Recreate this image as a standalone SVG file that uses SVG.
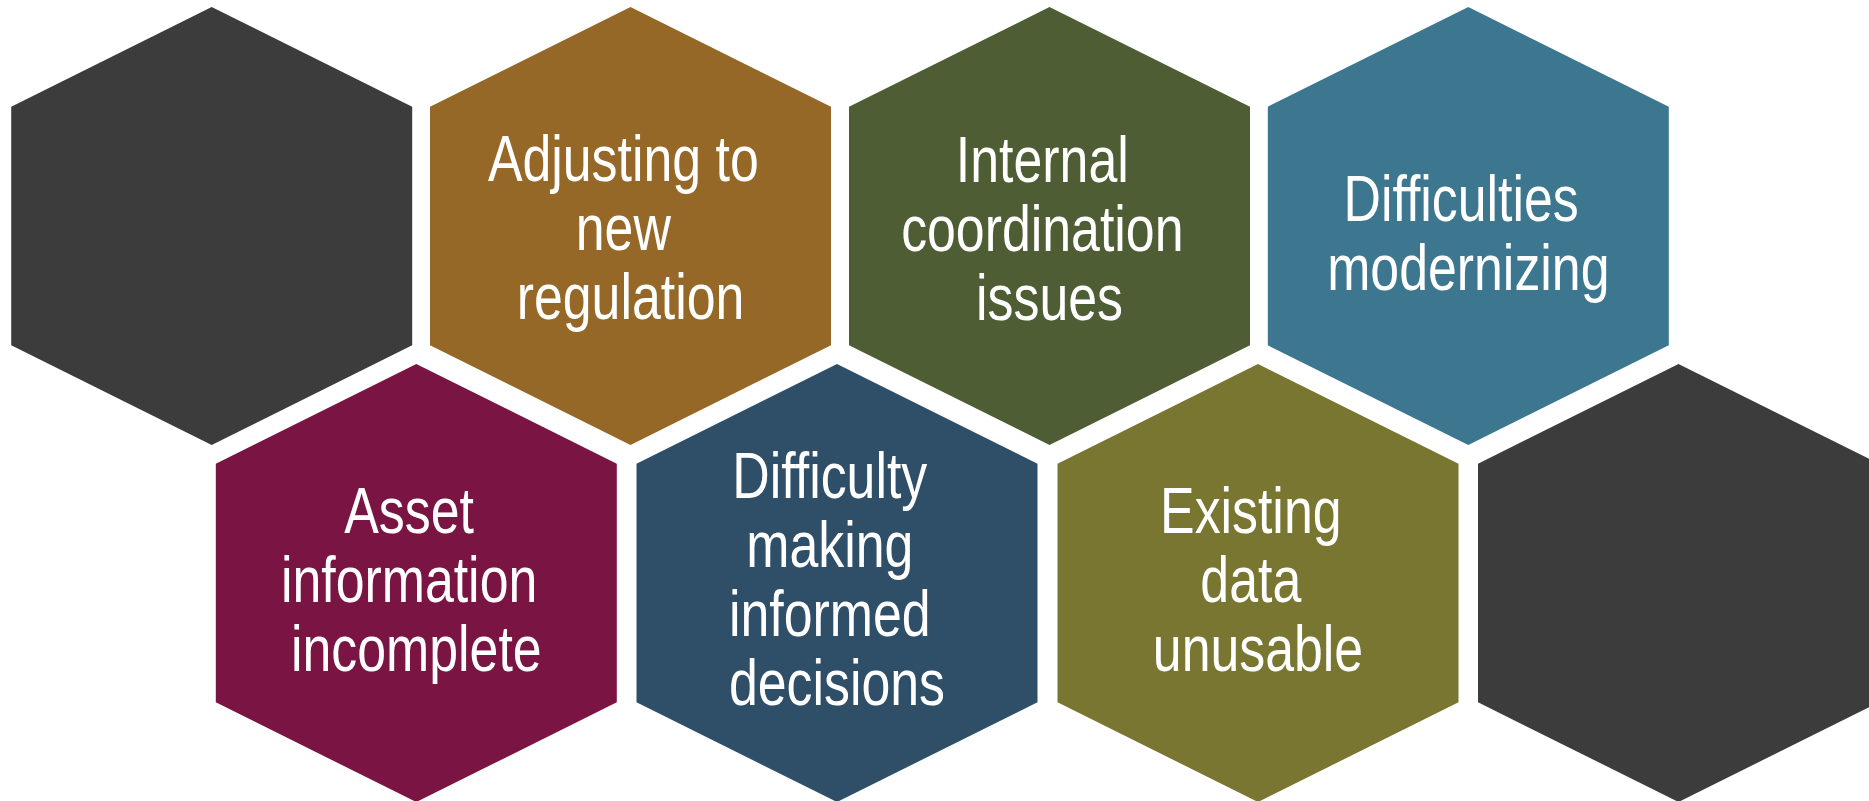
<svg xmlns="http://www.w3.org/2000/svg" xmlns:xlink="http://www.w3.org/1999/xlink" width="1869" height="801" viewBox="0 0 1869 801">
  <style>
    .lbl { font-family: "Liberation Sans", Arial, sans-serif; font-size: 64px; fill: #ffffff; text-anchor: middle; }
  </style>
  <defs>
    <polygon id="hex" points="-200.5,-119.3 0,-219 200.5,-119.3 200.5,119.3 0,219 -200.5,119.3"/>
  </defs>
  <rect x="0" y="0" width="1869" height="801" fill="#ffffff"/>
  <g id="connectors"/>

  <g id="hex-top-1">
    <use xlink:href="#hex" href="#hex" x="211.7" y="226" fill="#3c3c3c"/>
  </g>
  <g id="hex-adjusting">
    <use xlink:href="#hex" href="#hex" x="630.5" y="226" fill="#956828"/>
    <text class="lbl" transform="translate(630.5,0) scale(0.81,1)">
      <tspan x="0" y="181">Adjusting to</tspan>
      <tspan x="0" y="250">new</tspan>
      <tspan x="0" y="319">regulation</tspan>
    </text>
  </g>
  <g id="hex-internal">
    <use xlink:href="#hex" href="#hex" x="1049.5" y="226" fill="#4f5d35"/>
    <text class="lbl" transform="translate(1049.5,0) scale(0.81,1)">
      <tspan x="0" y="182">Internal</tspan>
      <tspan x="0" y="251">coordination</tspan>
      <tspan x="0" y="320">issues</tspan>
    </text>
  </g>
  <g id="hex-modernizing">
    <use xlink:href="#hex" href="#hex" x="1468.3" y="226" fill="#3c768f"/>
    <text class="lbl" transform="translate(1468.3,0) scale(0.81,1)">
      <tspan x="0" y="221">Difficulties</tspan>
      <tspan x="0" y="290">modernizing</tspan>
    </text>
  </g>

  <g id="hex-asset">
    <use xlink:href="#hex" href="#hex" x="416.3" y="583" fill="#7a1442"/>
    <text class="lbl" transform="translate(416.3,0) scale(0.81,1)">
      <tspan x="0" y="533">Asset</tspan>
      <tspan x="0" y="602">information</tspan>
      <tspan x="0" y="671">incomplete</tspan>
    </text>
  </g>
  <g id="hex-decisions">
    <use xlink:href="#hex" href="#hex" x="837" y="583" fill="#2f4e68"/>
    <text class="lbl" transform="translate(837,0) scale(0.81,1)">
      <tspan x="0" y="498">Difficulty</tspan>
      <tspan x="0" y="567">making</tspan>
      <tspan x="0" y="636">informed</tspan>
      <tspan x="0" y="705">decisions</tspan>
    </text>
  </g>
  <g id="hex-data">
    <use xlink:href="#hex" href="#hex" x="1258" y="583" fill="#787630"/>
    <text class="lbl" transform="translate(1258,0) scale(0.81,1)">
      <tspan x="0" y="533">Existing</tspan>
      <tspan x="0" y="602">data</tspan>
      <tspan x="0" y="671">unusable</tspan>
    </text>
  </g>
  <g id="hex-bottom-4">
    <use xlink:href="#hex" href="#hex" x="1678.5" y="583" fill="#3c3c3c"/>
  </g>
</svg>
